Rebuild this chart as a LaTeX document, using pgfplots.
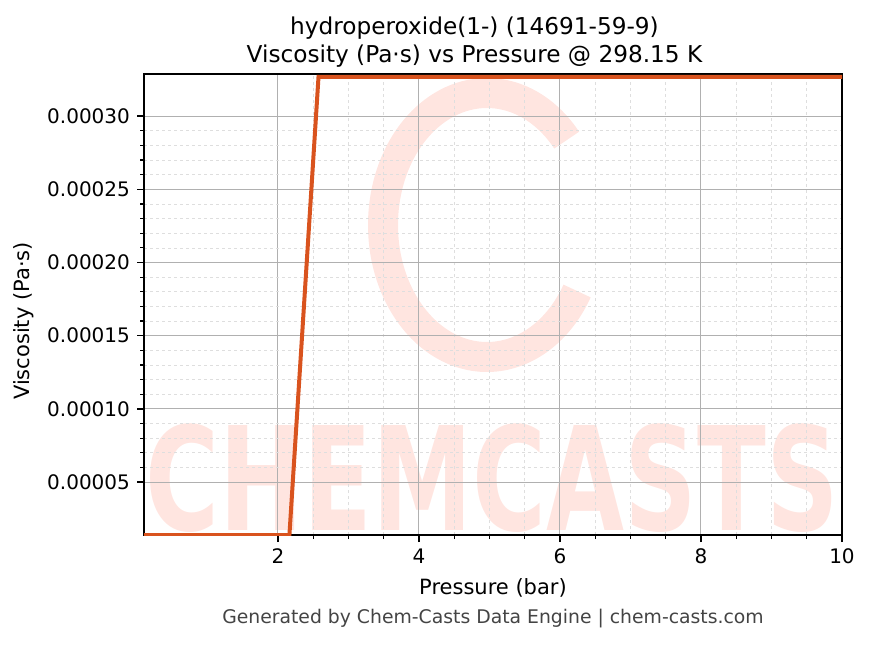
\documentclass[border=0pt]{standalone}
\usepackage{fontspec}
\setmainfont{DejaVu Sans}
\usepackage{pgfplots}
\pgfplotsset{compat=1.18}
\definecolor{lineC}{RGB}{217,83,30}
\definecolor{wm}{RGB}{255,229,224}
\definecolor{gridmaj}{RGB}{176,176,176}
\definecolor{gridmin}{RGB}{222,222,222}
\definecolor{foot}{RGB}{68,68,68}
\begin{document}
\begin{tikzpicture}
\useasboundingbox (0,0) rectangle (434.5pt,322pt);
% watermark
\draw[wm, line width=15pt] (243.5pt,209.5pt) ++(40:52pt and 66pt) arc[start angle=40, end angle=330, x radius=52pt, y radius=66pt];
\node[wm, font=\bfseries\fontsize{72}{72}\selectfont, anchor=base west, inner sep=0pt] at (72.5pt,57pt) {\scalebox{0.7}[1]{CHEMCASTS}};
\begin{axis}[
  at={(72pt,54.5pt)}, anchor=south west,
  scale only axis, width=349pt, height=230.5pt,
  xmin=0.1, xmax=10, ymin=1.38e-5, ymax=3.288e-4,
  xtick={2,4,6,8,10},
  ytick={0.00005,0.0001,0.00015,0.0002,0.00025,0.0003},
  yticklabels={0.00005,0.00010,0.00015,0.00020,0.00025,0.00030},
  scaled y ticks=false,
  minor x tick num=3, minor y tick num=4,
  tick align=outside, tick pos=left,
  major tick length=3.5pt, minor tick length=2pt,
  every tick/.style={black, line width=0.8pt},
  minor tick style={black, line width=0.6pt},
  grid=both,
  major grid style={gridmaj, line width=0.5pt},
  minor grid style={gridmin, line width=0.3pt, dash pattern=on 1.5pt off 1.5pt},
  axis line style={black, line width=1.1pt},
  ticklabel style={font=\fontsize{10}{12}\selectfont},
  /pgf/number format/assume math mode=true,
]
\addplot[lineC, line width=2pt] coordinates {
(0.1,1.38e-5) (0.5125,1.38e-5) (0.925,1.38e-5) (1.3375,1.38e-5) (1.75,1.38e-5) (2.1625,1.38e-5)
(2.575,3.268e-4) (2.9875,3.268e-4) (3.4,3.268e-4) (3.8125,3.268e-4) (4.225,3.268e-4) (4.6375,3.268e-4)
(5.05,3.268e-4) (5.4625,3.268e-4) (5.875,3.268e-4) (6.2875,3.268e-4) (6.7,3.268e-4) (7.1125,3.268e-4)
(7.525,3.268e-4) (7.9375,3.268e-4) (8.35,3.268e-4) (8.7625,3.268e-4) (9.175,3.268e-4) (9.5875,3.268e-4)
(10,3.268e-4)
};
\end{axis}
\node[font=\fontsize{11.6}{14}\selectfont] at (237.25pt,308pt) {hydroperoxide(1-) (14691-59-9)};
\node[font=\fontsize{11.6}{14}\selectfont] at (237.25pt,294pt) {Viscosity (Pa·s) vs Pressure @ 298.15 K};
\node[font=\fontsize{10.5}{12}\selectfont] at (246.5pt,28pt) {Pressure (bar)};
\node[font=\fontsize{10.5}{12}\selectfont, rotate=90] at (12pt,161.5pt) {Viscosity (Pa·s)};
\node[font=\fontsize{9.4}{11}\selectfont, text=foot] at (246.5pt,12.5pt) {Generated by Chem-Casts Data Engine | chem-casts.com};
\end{tikzpicture}
\end{document}
